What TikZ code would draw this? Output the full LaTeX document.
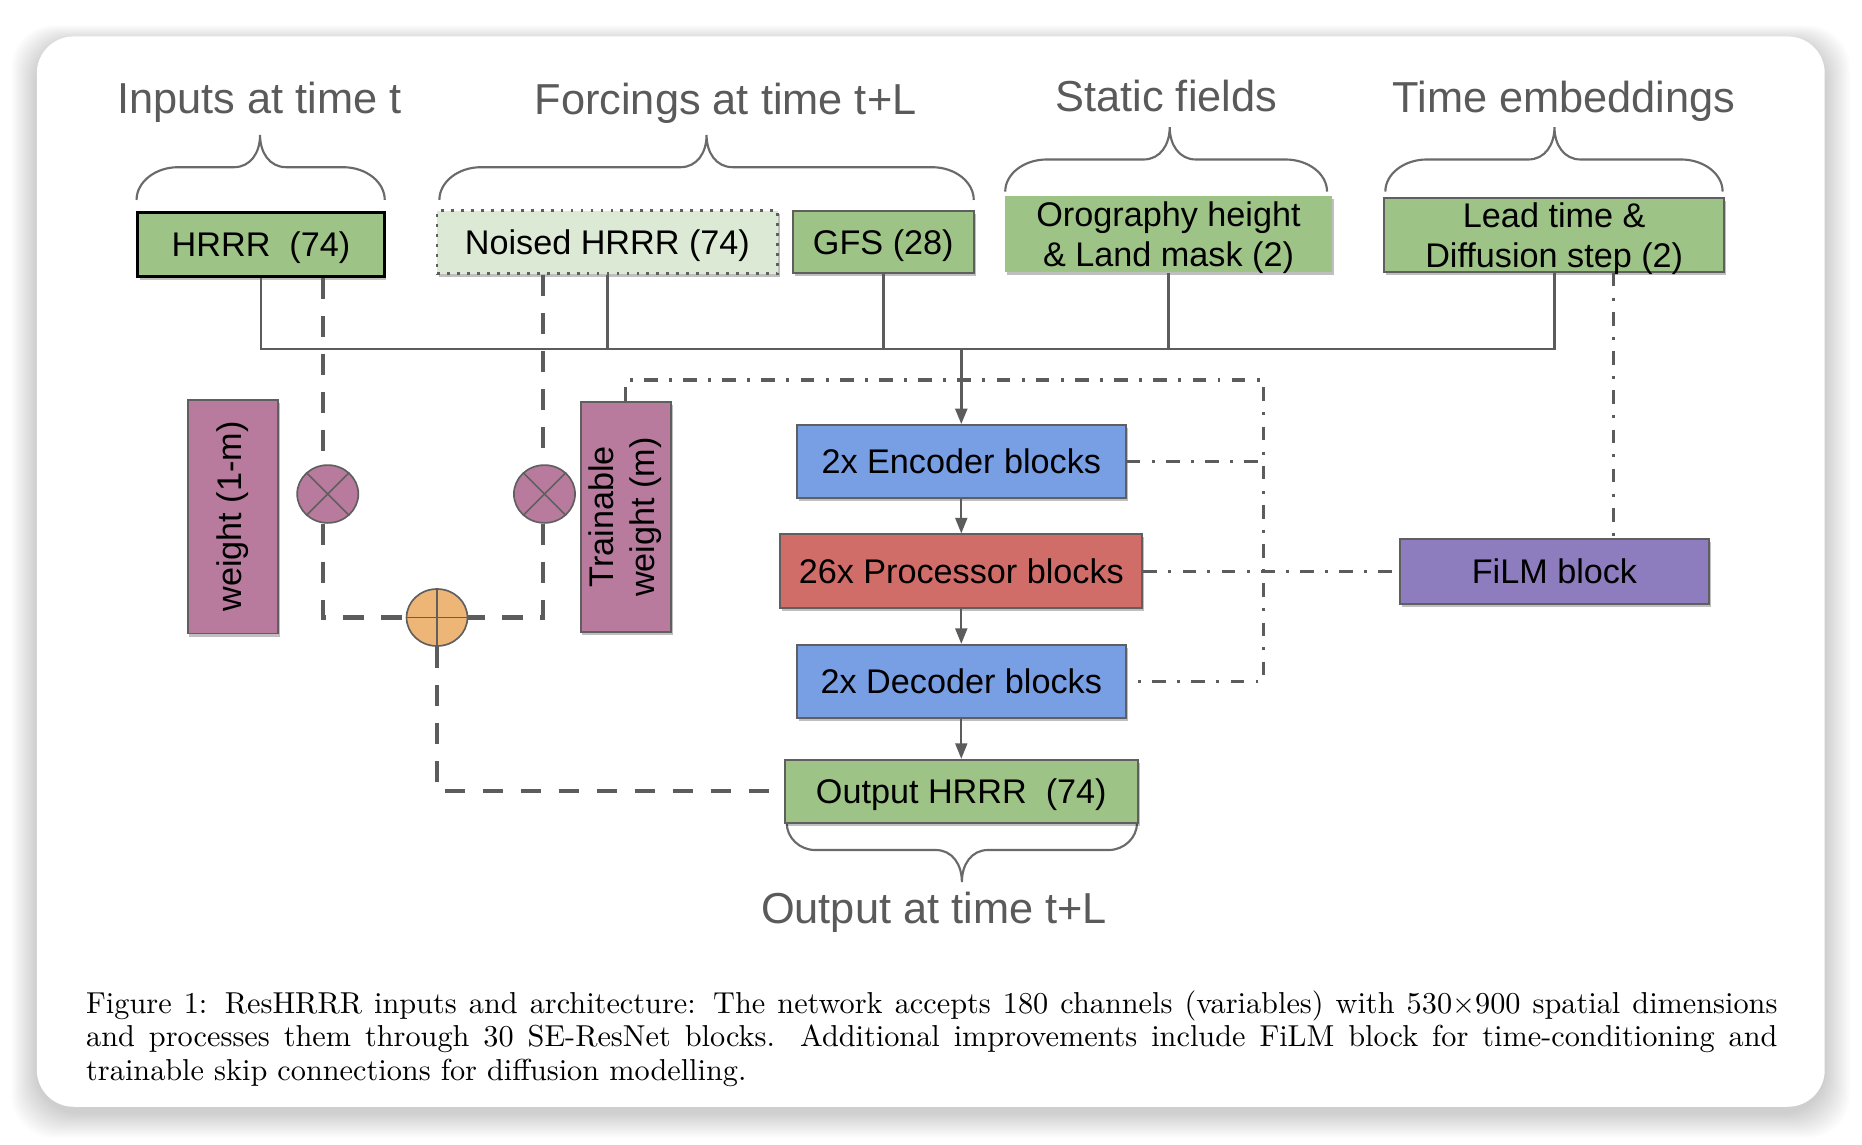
\documentclass[tikz,border=0pt]{standalone}
\usepackage{fontspec}
\newfontfamily\arialf{Liberation Sans}
\newfontfamily\capfont{lmroman10-regular.otf}
\usetikzlibrary{arrows.meta,shapes.geometric,shadows}
\definecolor{cgreen}{HTML}{9EC386}
\definecolor{clight}{HTML}{DCE9D5}
\definecolor{cblue}{HTML}{789EE3}
\definecolor{cred}{HTML}{D16D69}
\definecolor{cmauve}{HTML}{B87B9D}
\definecolor{corange}{HTML}{EDB676}
\definecolor{cpurple}{HTML}{8D7CBE}
\definecolor{cborder}{HTML}{5F5F5F}
\definecolor{cline}{HTML}{5C5C5C}
\definecolor{ctitle}{HTML}{5A5A5A}
\definecolor{cbrace}{HTML}{6A6A6A}
\newcommand\boxfont{\arialf\fontsize{28.8}{34}\selectfont}
\newcommand\titlefont{\arialf\fontsize{36.5}{42}\selectfont}
\newcommand\cbrace[7]{%
\draw[bracepath] (#1,#4) .. controls (#1,{#5+0.45*(#4-#5)}) and ({#1+0.45*#7},#5) .. ({#1+#7},#5)
 -- ({#2-22},#5) .. controls ({#2-8},#5) and (#2,{#5+0.45*(#6-#5)}) .. (#2,#6)
 .. controls (#2,{#5+0.45*(#6-#5)}) and ({#2+8},#5) .. ({#2+22},#5)
 -- ({#3-#7},#5) .. controls ({#3-0.45*#7},#5) and (#3,{#5+0.45*(#4-#5)}) .. (#3,#4);}
\begin{document}
\begin{tikzpicture}[x=1pt,y=-1pt,
  boxbase/.style={draw=cborder, line width=1.6pt, inner sep=0pt, font=\boxfont, text=black, align=center,
    drop shadow={shadow xshift=1.5pt, shadow yshift=-2.5pt, fill=black, opacity=0.25}},
  oneline/.style={text height=20.6pt, text depth=0pt},
  twoline/.style={text height=57.4pt, text depth=2.6pt},
  titletext/.style={font=\titlefont, text=ctitle, anchor=base, inner sep=0pt},
  opnode/.style={ellipse, draw=cborder, line width=1.4pt, inner sep=0pt},
  busline/.style={draw=cline, line width=2.3pt},
  skipline/.style={draw=cline, line width=3.4pt, dash pattern=on 17.5pt off 14.5pt},
  filmline/.style={draw=cline, line width=2.6pt, dash pattern=on 11.5pt off 9.5pt on 2.5pt off 9.5pt},
  flowarrow/.style={draw=cline, line width=1.8pt, -{Triangle[length=13pt,width=10pt]}},
  bracepath/.style={draw=cbrace, line width=1.8pt}]
\useasboundingbox (0,0) rectangle (1568,963.4);
\fill[white] (0,0) rectangle (1568,963.4);
% card with soft shadow
\foreach \i in {1,...,24}{
  \fill[black, opacity=0.007, rounded corners=36pt] ({31-\i*0.9},{30.7-\i*0.6+5}) rectangle ({1536.6+\i*0.9},{932+\i*0.9+5});
}
\fill[white, rounded corners=31pt] (31,30.7) rectangle (1536.6,932);

% titles
\node[titletext] (tin) at (218.7,95.9) {Inputs at time t};
\node[titletext] (tforc) at (611,96) {Forcings at time t+L};
\node[titletext] (tstat) at (982.2,94) {Static fields};
\node[titletext] (ttime) at (1317,95) {Time embeddings};
\node[titletext] (tout) at (786.5,778) {Output at time t+L};

% braces
\cbrace{115}{219}{324}{168.4}{140.8}{113.7}{35}
\cbrace{370}{595}{820}{168.4}{140.8}{113.7}{35}
\cbrace{846.5}{985}{1117.5}{161.3}{134.3}{107}{35}
\cbrace{1166.6}{1309}{1450.6}{161.3}{134.3}{107}{35}
\cbrace{662.5}{810}{957.5}{692.9}{715.8}{742.8}{24}

% boxes
\node[boxbase, oneline, fill=cgreen, draw=black, line width=2.2pt, minimum width=207.6pt, minimum height=54pt] (hrrr) at (219.8,206) {HRRR\ \ (74)};
\node[boxbase, oneline, fill=clight, draw=cborder, line width=2.4pt, dash pattern=on 2.4pt off 6pt, minimum width=287pt, minimum height=53.3pt] (noised) at (511.5,204) {Noised HRRR (74)};
\node[boxbase, oneline, fill=cgreen, minimum width=152.4pt, minimum height=52.2pt] (gfs) at (743.8,203.7) {GFS (28)};
\node[boxbase, twoline, fill=cgreen, draw=none, minimum width=275.8pt, minimum height=63.6pt] (oro) at (984,197) {Orography height\\\& Land mask (2)};
\node[boxbase, twoline, fill=cgreen, minimum width=286.4pt, minimum height=61.8pt] (lead) at (1308.8,198) {Lead time \&\\Diffusion step (2)};
\node[boxbase, fill=cmauve, minimum width=76pt, minimum height=197pt] (w1m) at (196,435) {\rotatebox{90}{weight (1-m)}};
\node[boxbase, fill=cmauve, minimum width=76pt, minimum height=193.5pt] (wm) at (527,435.3) {\rotatebox{90}{\begin{tabular}{@{}c@{}}Trainable\\weight (m)\end{tabular}}};
\node[opnode, fill=cmauve, minimum width=51.5pt, minimum height=48.7pt] (mul1) at (276,416) {};
\node[opnode, fill=cmauve, minimum width=51.5pt, minimum height=48.7pt] (mul2) at (458.5,416) {};
\node[opnode, fill=corange, minimum width=51.3pt, minimum height=48pt] (plus) at (368,520) {};
\draw[cborder, line width=1.3pt] (mul1.45) -- (mul1.225) (mul1.135) -- (mul1.315);
\draw[cborder, line width=1.3pt] (mul2.45) -- (mul2.225) (mul2.135) -- (mul2.315);
\draw[cborder, line width=1.3pt] (plus.north) -- (plus.south) (plus.west) -- (plus.east);
\node[boxbase, oneline, fill=cblue, minimum width=277pt, minimum height=61.7pt] (enc) at (809.5,388.8) {2x Encoder blocks};
\node[boxbase, oneline, fill=cred, minimum width=305pt, minimum height=62pt] (proc) at (809.5,481) {26x Processor blocks};
\node[boxbase, oneline, fill=cblue, minimum width=277pt, minimum height=62pt] (dec) at (809.5,574) {2x Decoder blocks};
\node[boxbase, oneline, fill=cgreen, minimum width=297.4pt, minimum height=53pt] (out) at (809.5,666.3) {Output HRRR\ \ (74)};
\node[boxbase, oneline, fill=cpurple, minimum width=260pt, minimum height=54.6pt] (film) at (1309,481) {FiLM block};

% solid input bus
\coordinate (bus) at (809.5,294);
\draw[busline] (hrrr.south) |- (lead.south |- bus) -- (lead.south);
\draw[busline] (noised.south) -- (noised.south |- bus);
\draw[busline] (gfs.south) -- (gfs.south |- bus);
\draw[busline] (oro.south) -- (oro.south |- bus);
\draw[flowarrow, line width=2.3pt] (bus) -- (enc.north);
\draw[flowarrow] (enc.south) -- (proc.north);
\draw[flowarrow] (proc.south) -- (dec.north);
\draw[flowarrow] (dec.south) -- (out.north);

% trainable skip connection (dashed)
\coordinate (dl) at (272,520);
\coordinate (dr) at (457.5,520);
\coordinate (db) at (368,666.3);
\draw[skipline] (hrrr.south -| dl) -- (mul1.north -| dl);
\draw[skipline] (mul1.south -| dl) -- (dl) -- (plus.west);
\draw[skipline] (noised.south -| dr) -- (mul2.north -| dr);
\draw[skipline] (mul2.south -| dr) -- (dr) -- (plus.east);
\draw[skipline] (plus.south) -- (db) -- (out.west);

% conditioning (dash-dot)
\coordinate (ddl) at (527,320);
\coordinate (ddr) at (1064,320);
\coordinate (ldd) at (1358.6,300);
\draw[filmline] (wm.north) -- (ddl) -- (ddr) -- (ddr |- dec.east) -- (dec.east);
\draw[filmline] (enc.east) -- (enc.east -| ddr);
\draw[filmline] (proc.east) -- (film.west);
\draw[filmline] (lead.south -| ldd) -- (film.north -| ldd);

% caption
\node[anchor=base west, inner sep=0pt, text=black] (cap) at (72.4,853.3) {\parbox[t]{1424.2pt}{\capfont\fontsize{25.5}{28.1}\selectfont
Figure 1: ResHRRR inputs and architecture: The network accepts 180 channels (variables) with 530$\times$900 spatial dimensions\linebreak
and processes them through 30 SE-ResNet blocks. Additional improvements include FiLM block for time-conditioning and\linebreak
trainable skip connections for diffusion modelling.}};
\end{tikzpicture}
\end{document}
